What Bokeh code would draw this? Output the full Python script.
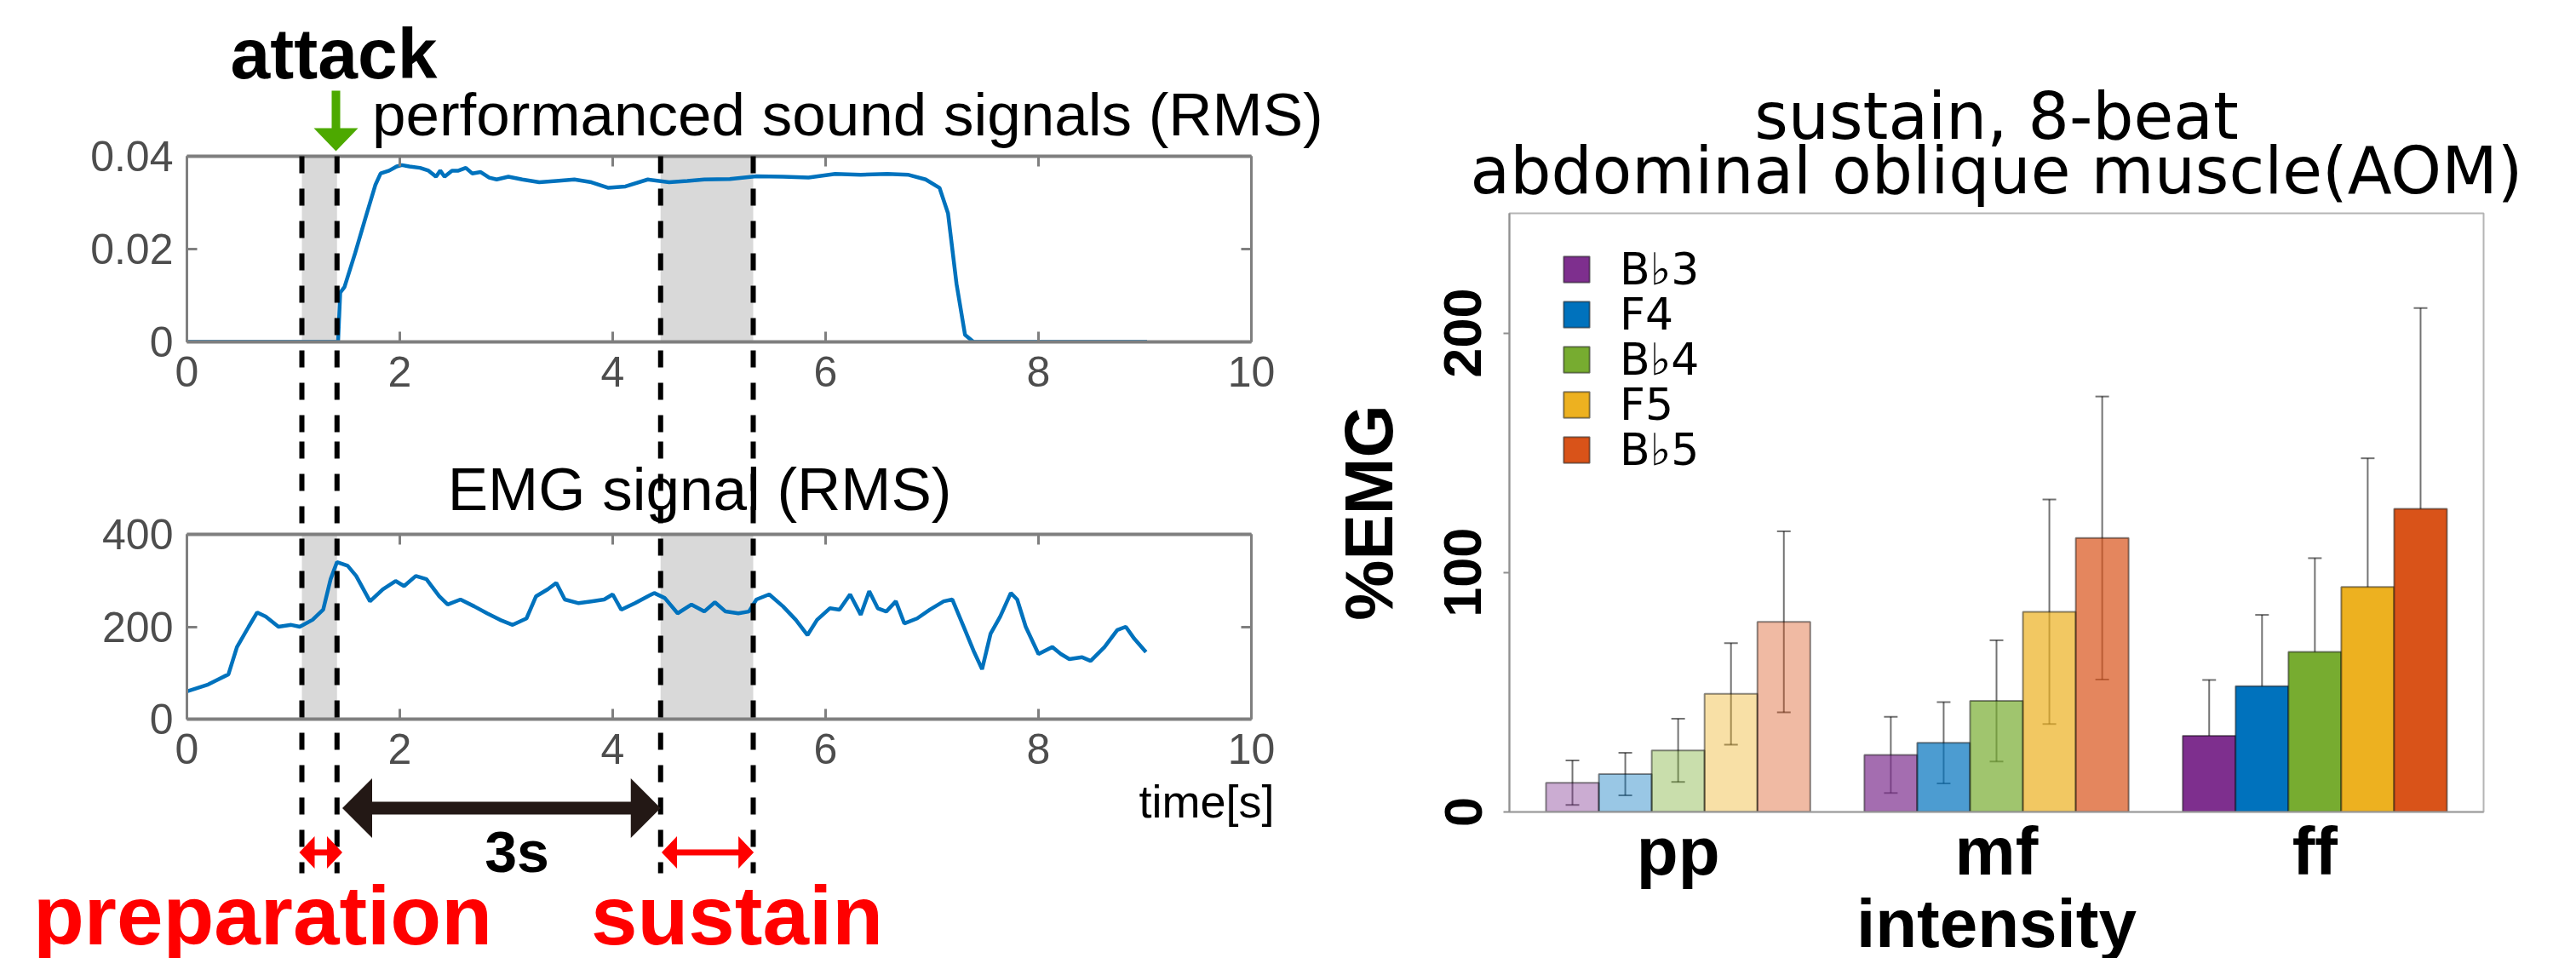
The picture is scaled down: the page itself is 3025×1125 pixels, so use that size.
import numpy as np
from bokeh.plotting import figure
from bokeh.models import (Range1d, LinearAxis, FixedTicker, ColumnDataSource,
                          Whisker, TeeHead, Legend, LegendItem)
from bokeh.layouts import row, column
from bokeh.embed import file_html
from bokeh.resources import INLINE
from bokeh.core.properties import value

# ---------------- data ----------------
sound_t = [0, 1.42, 1.44, 1.48, 1.58, 1.69, 1.77, 1.82, 1.90, 1.97, 2.02, 2.09, 2.19,
           2.27, 2.34, 2.38, 2.42, 2.49, 2.55, 2.62, 2.68, 2.76, 2.84, 2.91, 3.02,
           3.15, 3.31, 3.47, 3.64, 3.80, 3.96, 4.12, 4.33, 4.53, 4.70, 4.86, 5.10,
           5.35, 5.60, 5.84, 6.09, 6.33, 6.58, 6.78, 6.94, 7.07, 7.15, 7.23, 7.31,
           7.39, 9.02]
sound_rms = [0, 0, 0.0106, 0.0118, 0.0191, 0.0277, 0.0338, 0.0363, 0.0369, 0.0378,
             0.0381, 0.0378, 0.0375, 0.0369, 0.0356, 0.0369, 0.0356, 0.0369, 0.0369,
             0.0375, 0.0363, 0.0366, 0.0354, 0.0350, 0.0356,
             0.0350, 0.0344, 0.0347, 0.0350, 0.0344, 0.0332, 0.0335, 0.0350, 0.0344,
             0.0347, 0.0350, 0.0351, 0.0357, 0.0356, 0.0354, 0.0362, 0.0360, 0.0362,
             0.0360, 0.0350, 0.0332, 0.0277, 0.0125, 0.0015, 0, 0]

emg_t = [0, 0.20, 0.39, 0.47, 0.58, 0.66, 0.74, 0.86, 0.98, 1.06, 1.18, 1.28, 1.35,
         1.41, 1.51, 1.59, 1.72, 1.84, 1.96, 2.04, 2.15, 2.25, 2.37, 2.45, 2.57,
         2.70, 2.82, 2.94, 3.06, 3.19, 3.28, 3.39, 3.47, 3.55, 3.68, 3.80, 3.92,
         4.00, 4.08, 4.21, 4.33, 4.39, 4.49, 4.61, 4.74, 4.86, 4.96, 5.06, 5.18,
         5.28, 5.35, 5.47, 5.60, 5.72, 5.83, 5.92, 6.04, 6.13, 6.23, 6.33, 6.41,
         6.49, 6.57, 6.66, 6.74, 6.86, 6.98, 7.11, 7.19, 7.31, 7.39, 7.47, 7.55,
         7.64, 7.74, 7.80, 7.88, 8.00, 8.13, 8.21, 8.29, 8.41, 8.49, 8.62, 8.74,
         8.82, 8.90, 9.01]
emg_rms = [60, 75, 97, 156, 200, 231, 222, 200, 204, 200, 215, 237, 303,
           340, 332, 310, 255, 281, 299, 288, 310, 303, 266, 248, 259,
           244, 229, 215, 204, 218, 266, 281, 295, 259, 251, 255, 259,
           270, 237, 251, 266, 273, 262, 229, 248, 233, 253, 233, 229,
           233, 259, 270, 244, 215, 182, 215, 240, 237, 270, 226, 277,
           240, 233, 255, 207, 218, 237, 255, 259, 193, 148, 108, 185,
           222, 273, 259, 200, 141, 156, 141, 130, 134, 126, 156, 193,
           200, 174, 145]

time_ticks = [0, 2, 4, 6, 8, 10]
sound_ticks = [0, 0.02, 0.04]
sound_tick_labels = ["0", "0.02", "0.04"]
emg_ticks = [0, 200, 400]
# preparation start, attack, sustain start, sustain end  [s]
phase_bounds = [1.08, 1.41, 4.45, 5.32]

intensities = ["pp", "mf", "ff"]
notes = ["B\u266d3", "F4", "B\u266d4", "F5", "B\u266d5"]
note_colors = ["#7E2F8E", "#0072BD", "#77AC30", "#EDB120", "#D95319"]
intensity_alpha = [0.4, 0.7, 1.0]
mean_pp = [12.2, 15.8, 25.7, 49.3, 79.4]
sd_pp = [9.3, 8.9, 13.2, 21.2, 37.8]
mean_mf = [23.8, 28.9, 46.4, 83.6, 114.4]
sd_mf = [15.9, 17.0, 25.3, 46.9, 59.1]
mean_ff = [31.8, 52.5, 66.9, 94.0, 126.6]
sd_ff = [23.3, 29.8, 39.1, 53.7, 83.8]
emg_pct_ticks = [0, 100, 200]

FONTN = "Liberation Sans"
FONT = value(FONTN)
WIDEN = "DejaVu Sans"
WIDE = value(WIDEN)
AX = "#7f7f7f"
BASE_FIX = 0.36  # em offset between requested and drawn alphabetic baseline

# ---------------- helpers ----------------
W_LEFT = 1560
FRAME_W = 1250
BL = 219
BR = W_LEFT - BL - FRAME_W
PX_T = 10.0 / FRAME_W  # seconds per pixel


def bl(page_y, size):
    return page_y - BASE_FIX * size


def time_figure(ymax, height, b_top, frame_h, yticks, overrides=None):
    p = figure(width=W_LEFT, height=height, x_range=Range1d(0, 10),
               y_range=Range1d(0, ymax), min_border_left=BL, min_border_right=BR,
               min_border_top=b_top, min_border_bottom=height - b_top - frame_h,
               output_backend="svg", toolbar_location=None,
               outline_line_color=None, background_fill_color="white",
               border_fill_color="white")
    p.grid.visible = False
    p.xaxis.ticker = FixedTicker(ticks=time_ticks)
    p.yaxis.ticker = FixedTicker(ticks=yticks)
    if overrides:
        p.yaxis.major_label_overrides = overrides
    top_ax = LinearAxis(ticker=FixedTicker(ticks=time_ticks))
    right_ax = LinearAxis(ticker=FixedTicker(ticks=yticks))
    p.add_layout(top_ax, "above")
    p.add_layout(right_ax, "right")
    for ax in p.axis:
        ax.axis_line_color = AX
        ax.major_tick_in = 12
        ax.major_tick_out = 0
        ax.major_tick_line_color = AX
        ax.major_tick_line_width = 3
        ax.minor_tick_line_color = None
        ax.major_label_text_font = FONTN
        ax.major_label_text_color = "#4d4d4d"
        ax.major_label_text_font_size = "50px"
    for ax in p.xaxis:
        ax.axis_line_width = 4
        ax.major_label_standoff = 17
    for ax in p.yaxis:
        ax.axis_line_width = 3
        ax.major_label_standoff = 16
    for ax in (top_ax, right_ax):
        ax.major_label_text_font_size = "1px"
        ax.major_label_text_color = None
        ax.major_label_standoff = 0
    return p


def double_arrow(xl, xr, yc, head_len, half_h, half_w):
    xs = [xl, xl + head_len, xl + head_len, xr - head_len, xr - head_len, xr,
          xr - head_len, xr - head_len, xl + head_len, xl + head_len]
    ys = [yc, yc + half_h, yc + half_w, yc + half_w, yc + half_h, yc,
          yc - half_h, yc - half_w, yc - half_w, yc - half_h]
    return xs, ys


# ---------------- top: sound ----------------
TOP_H, TOP_BT, TOP_FH = 510, 183, 218
ft = time_figure(0.04, TOP_H, TOP_BT, TOP_FH, sound_ticks,
                 dict(zip(sound_ticks, sound_tick_labels)))
PY_S = 0.04 / TOP_FH


def ys_top(page_y):  # page pixel -> data (top figure)
    return (TOP_BT + TOP_FH - page_y) * PY_S


shade_l = [phase_bounds[0], phase_bounds[2]]
shade_r = [phase_bounds[1], phase_bounds[3]]
ft.quad(left=shade_l, right=shade_r, bottom=0, top=0.04, fill_color="#d9d9d9",
        line_color=None)
ft.line(sound_t, sound_rms, line_color="#0072BD", line_width=4.5)
ft.segment(x0=phase_bounds, x1=phase_bounds, y0=[0.04] * 4, y1=[ys_top(560)] * 4,
           line_color="black", line_width=6, line_dash="20 18", level="overlay")
attack = phase_bounds[1]
ft.text(x=[attack - 0.03], y=[ys_top(bl(93, 84))], text=["attack"], text_font=FONT,
        text_font_style="bold", text_font_size="84px", text_align="center",
        text_baseline="alphabetic", text_color="black", level="overlay")
gx = attack - 0.01
ft.patch(x=[gx - 5 * PX_T, gx + 5 * PX_T, gx + 5 * PX_T, gx + 26 * PX_T, gx,
            gx - 26 * PX_T, gx - 5 * PX_T],
         y=[ys_top(106), ys_top(106), ys_top(150), ys_top(150), ys_top(177),
            ys_top(150), ys_top(150)],
         fill_color="#4DA900", line_color=None, level="overlay")
ft.text(x=[attack + 0.33], y=[ys_top(bl(160, 71))],
        text=["performanced sound signals (RMS)"],
        text_font=FONT, text_font_size="71px", text_align="left",
        text_baseline="alphabetic", text_color="black", level="overlay")

# ---------------- bottom: EMG ----------------
BOT_H, BOT_BT, BOT_FH = 615, 117, 217
fb = time_figure(400, BOT_H, BOT_BT, BOT_FH, emg_ticks)
PY_E = 400.0 / BOT_FH
PAGE_TOP_B = TOP_H


def ys_bot(page_y):
    return (PAGE_TOP_B + BOT_BT + BOT_FH - page_y) * PY_E


fb.quad(left=shade_l, right=shade_r, bottom=0, top=400, fill_color="#d9d9d9",
        line_color=None)
fb.line(emg_t, emg_rms, line_color="#0072BD", line_width=4.5)
fb.segment(x0=phase_bounds, x1=phase_bounds, y0=[ys_bot(480)] * 4,
           y1=[ys_bot(1025)] * 4, line_color="black", line_width=6,
           line_dash="20 18", level="overlay")
fb.text(x=[2.45], y=[ys_bot(bl(600, 71))], text=["EMG signal (RMS)"], text_font=FONT,
        text_font_size="71px", text_align="left", text_baseline="alphabetic",
        text_color="black", level="overlay")
# black 3 s arrow
bx, by = double_arrow(attack + 0.05, phase_bounds[2], ys_bot(948.5), 35 * PX_T,
                      35 * PY_E, 7.5 * PY_E)
fb.patch(x=bx, y=by, fill_color="#231815", line_color=None, level="overlay")
fb.text(x=[3.10], y=[ys_bot(bl(1024, 68))], text=["3s"], text_font=FONT,
        text_font_style="bold", text_font_size="68px", text_align="center",
        text_baseline="alphabetic", text_color="black", level="overlay")
# red arrows
for xl, xr in [(phase_bounds[0] - 0.024, phase_bounds[1] + 0.05),
               (phase_bounds[2] + 0.01, phase_bounds[3] + 0.005)]:
    rx, ry = double_arrow(xl, xr, ys_bot(1000.5), 18 * PX_T, 19 * PY_E, 3.5 * PY_E)
    fb.patch(x=rx, y=ry, fill_color="#ff0000", line_color=None, level="overlay")
fb.text(x=[0.712, 5.168], y=[ys_bot(bl(1110, 98))] * 2, text=["preparation", "sustain"],
        text_font=FONT, text_font_style="bold", text_font_size="98px",
        text_align="center", text_baseline="alphabetic", text_color="#ff0000",
        level="overlay")
fb.text(x=[8.944], y=[ys_bot(bl(960, 54))], text=["time[s]"], text_font=FONT,
        text_font_size="54px", text_align="left", text_baseline="alphabetic",
        text_color="black", level="overlay")

# ---------------- right: bar chart ----------------
WB, HB = 1465, 1125
BB_L, BB_R, BB_T, BB_B = 212, 109, 250, 172
FH_B = HB - BB_T - BB_B
pb = figure(width=WB, height=HB, x_range=Range1d(0.47, 3.53), y_range=Range1d(0, 250),
            min_border_left=BB_L, min_border_right=BB_R, min_border_top=BB_T,
            min_border_bottom=BB_B, output_backend="svg", toolbar_location=None,
            outline_line_color="#b5b5b5", outline_line_width=2,
            background_fill_color="white", border_fill_color="white")
pb.grid.visible = False
PY_B = 250.0 / FH_B
bar_w = 0.166
means_by_int = [mean_pp, mean_mf, mean_ff]
sds_by_int = [sd_pp, sd_mf, sd_ff]
renderers = []
for j, note in enumerate(notes):
    xs = [i + 1 + (j - 2) * bar_w for i in range(len(intensities))]
    m = [means_by_int[i][j] for i in range(len(intensities))]
    s = [sds_by_int[i][j] for i in range(len(intensities))]
    src = ColumnDataSource(dict(x=xs, top=m, upper=[a + b for a, b in zip(m, s)],
                                lower=[a - b for a, b in zip(m, s)],
                                alpha=intensity_alpha))
    r = pb.vbar(x="x", top="top", bottom=0, width=bar_w, source=src,
                fill_color=note_colors[j], fill_alpha="alpha", line_color="black",
                line_alpha=0.45, line_width=2)
    head = dict(size=16, line_color="black", line_alpha=0.55, line_width=2)
    pb.add_layout(Whisker(source=src, base="x", upper="upper", lower="lower",
                          line_color="black", line_alpha=0.55, line_width=2,
                          upper_head=TeeHead(**head), lower_head=TeeHead(**head)))
    renderers.append(r)

# legend: one entry per note, stacked at a fixed pitch below the frame's top
LEG_FIRST, LEG_PITCH, LEG_ITEM_HALF = 64, 53, 32
for j, (note, r) in enumerate(zip(notes, renderers)):
    centre_from_bottom = FH_B - (LEG_FIRST + j * LEG_PITCH)
    lg = Legend(items=[LegendItem(label=note, renderers=[r], index=2)],
                location=(60, centre_from_bottom - LEG_ITEM_HALF), padding=0,
                margin=0, glyph_width=38, glyph_height=38, label_standoff=32,
                label_text_font=WIDEN, label_text_font_size="52px",
                label_text_color="black", border_line_color=None,
                background_fill_alpha=0)
    pb.add_layout(lg)

pb.xaxis.ticker = FixedTicker(ticks=[1, 2, 3])
pb.xaxis.major_label_overrides = {i + 1: lab for i, lab in enumerate(intensities)}
pb.xaxis.major_label_text_font = FONTN
pb.xaxis.major_label_text_font_style = "bold"
pb.xaxis.major_label_text_font_size = "80px"
pb.xaxis.major_label_text_color = "black"
pb.xaxis.major_tick_in = 0
pb.xaxis.major_tick_out = 0
pb.xaxis.minor_tick_line_color = None
pb.xaxis.axis_line_color = "#a0a0a0"
pb.xaxis.axis_line_width = 2
pb.xaxis.major_label_standoff = 1

pb.yaxis.ticker = FixedTicker(ticks=emg_pct_ticks)
pb.yaxis.major_label_orientation = "vertical"
pb.yaxis.major_label_text_font = FONTN
pb.yaxis.major_label_text_font_style = "bold"
pb.yaxis.major_label_text_font_size = "63px"
pb.yaxis.major_label_text_color = "black"
pb.yaxis.major_tick_in = 0
pb.yaxis.major_tick_out = 7
pb.yaxis.major_tick_line_color = "#909090"
pb.yaxis.major_tick_line_width = 2
pb.yaxis.minor_tick_line_color = None
pb.yaxis.axis_line_color = "#909090"
pb.yaxis.axis_line_width = 2
pb.yaxis.major_label_standoff = 26

X_PX = 3.06 / (WB - BB_L - BB_R)


def yb(page_y):
    return (BB_T + FH_B - page_y) * PY_B


pb.text(x=[0.47 - 165 * X_PX], y=[125], text=["%EMG"], text_font=FONT,
        text_font_style="bold", text_font_size="80px", angle=np.pi / 2,
        text_align="center", text_baseline="middle", text_color="black",
        level="overlay")
pb.text(x=[2.0, 2.0], y=[yb(bl(163, 76)), yb(bl(227, 76))],
        text=["sustain, 8-beat", "abdominal oblique muscle(AOM)"], text_font=WIDE,
        text_font_size="76px", text_align="center", text_baseline="alphabetic",
        text_color="black", level="overlay")
pb.text(x=[2.0], y=[yb(bl(1113, 80))], text=["intensity"], text_font=FONT,
        text_font_style="bold", text_font_size="80px", text_align="center",
        text_baseline="alphabetic", text_color="black", level="overlay")

layout = row(column(ft, fb), pb)
open("out.html", "w").write(file_html(layout, INLINE))
